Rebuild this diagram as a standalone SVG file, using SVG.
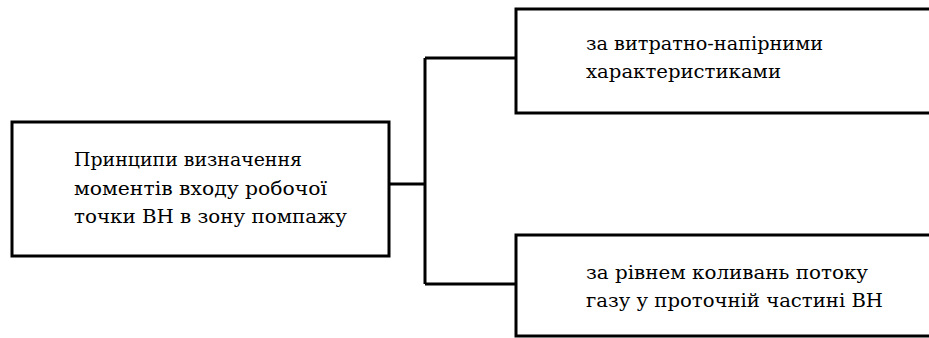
<svg xmlns="http://www.w3.org/2000/svg" width="929" height="338" viewBox="0 0 929 338">
<style>
.box{fill:#fff;stroke:#000;stroke-width:3}
.con{fill:none;stroke:#000;stroke-width:3}
.t{font-family:'DejaVu Serif',serif;font-size:19px;fill:#000}
</style>
<rect width="929" height="338" fill="#fff"/>
<g id="connectors">
<path class="con" d="M389 184H425M425 58V284M425 58H516M425 284H516"/>
</g>
<g id="root">
<rect class="box" x="12" y="122" width="377" height="134"/>
<text class="t" x="74" y="166" textLength="228" lengthAdjust="spacingAndGlyphs">Принципи визначення</text>
<text class="t" x="74" y="194.5" textLength="253" lengthAdjust="spacingAndGlyphs">моментів входу робочої</text>
<text class="t" x="74" y="223" textLength="273" lengthAdjust="spacingAndGlyphs">точки ВН в зону помпажу</text>
</g>
<g id="n1">
<rect class="box" x="516" y="9" width="420" height="104"/>
<text class="t" x="586" y="50" textLength="237" lengthAdjust="spacingAndGlyphs">за витратно-напірними</text>
<text class="t" x="586" y="77.5" textLength="195" lengthAdjust="spacingAndGlyphs">характеристиками</text>
</g>
<g id="n2">
<rect class="box" x="516" y="235" width="420" height="101"/>
<text class="t" x="586" y="279" textLength="282" lengthAdjust="spacingAndGlyphs">за рівнем коливань потоку</text>
<text class="t" x="586" y="307" textLength="297" lengthAdjust="spacingAndGlyphs">газу у проточній частині ВН</text>
</g>
</svg>
